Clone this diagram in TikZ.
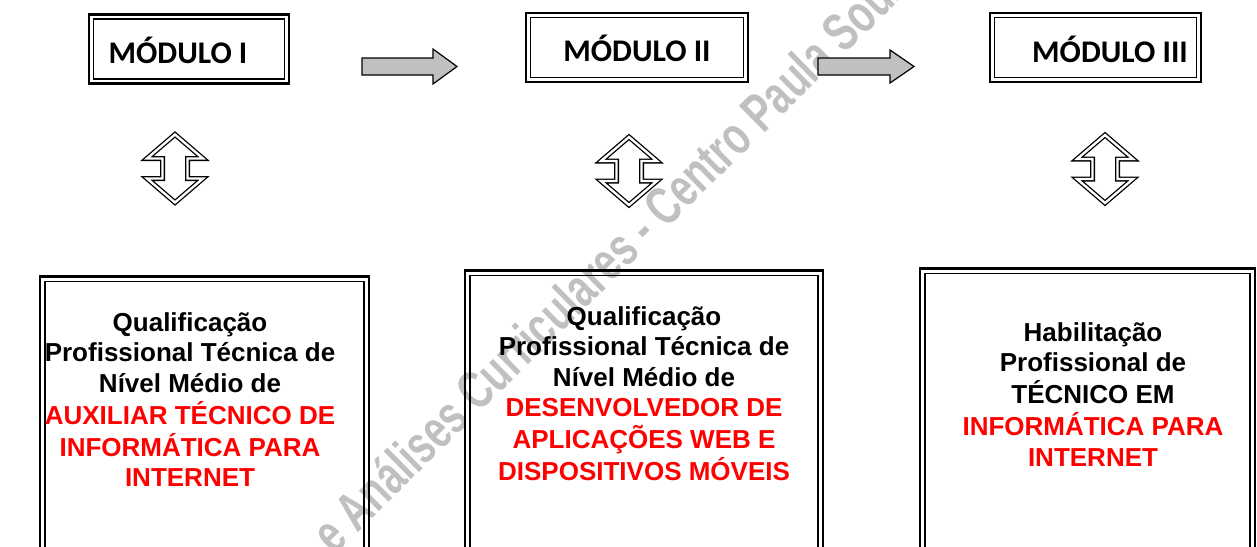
\documentclass[tikz,border=0pt]{standalone}
\usepackage{fontspec}
\usepackage{graphicx}
\newfontfamily\arialf{Liberation Sans}
\newfontfamily\calib{Carlito}
\definecolor{wm}{RGB}{192,192,192}
\definecolor{arfill}{RGB}{192,192,192}
\definecolor{rd}{RGB}{255,0,0}
\begin{document}
\begin{tikzpicture}[x=1pt,y=-1pt,
  modbox/.style={draw, line width=2.6pt, minimum width=#1, minimum height=69pt, inner sep=0pt},
  bigbox/.style={draw, line width=2.6pt, minimum width=#1, minimum height=320pt, inner sep=0pt, anchor=north},
  innerline/.style={line width=1.5pt},
  modlabel/.style={anchor=base, inner sep=0pt, font=\calib\bfseries\fontsize{31.5}{31.5}\selectfont},
  boxtext/.style={anchor=base, inner sep=0pt, font=\arialf\bfseries\fontsize{26}{30.5}\selectfont},
  greyarrow/.style={draw, line width=1.2pt, fill=arfill, line join=miter},
  udarrow/.style={draw, line width=1.3pt, double=white, double distance=2.4pt, line join=miter}
]
\useasboundingbox (0,0) rectangle (1257,546);
\clip (0,0) rectangle (1257,546);

% watermark
\node[rotate=44.5, anchor=base west, inner sep=0pt, text=wm,
      font=\arialf\bfseries\fontsize{40}{40}\selectfont] (wmark) at (334,556)
      {\scalebox{0.97}[1.35]{e Análises Curriculares - Centro Paula Souza}};

% module boxes
\node[modbox=200pt] (m1) at (189,49) {};
\node[modbox=222pt] (m2) at (637,47.5) {};
\node[modbox=211pt] (m3) at (1095.5,47.5) {};
\foreach \b in {m1,m2,m3}{
  \draw[innerline] ([xshift=6pt,yshift=-6pt]\b.north west) rectangle ([xshift=-6pt,yshift=6pt]\b.south east);
}
\node[modlabel] (l1) at (178,63) {MÓDULO I};
\node[modlabel] (l2) at (637,61) {MÓDULO II};
\node[modlabel] (l3) at (1110,62) {MÓDULO III};

% grey arrows
\draw[greyarrow] (362,58) -- (433,58) -- (433,49) -- (457,66.5) -- (433,84) -- (433,75) -- (362,75) -- cycle;
\draw[greyarrow] (818,58) -- (890,58) -- (890,50) -- (914,66.5) -- (890,83) -- (890,75) -- (818,75) -- cycle;

% up-down arrows
\foreach \cx/\cy in {175/168.5, 629/171, 1105/169}{
  \draw[udarrow] (\cx,\cy-34) -- (\cx+28,\cy-10) -- (\cx+12.5,\cy-10) -- (\cx+12.5,\cy+10)
     -- (\cx+28,\cy+10) -- (\cx,\cy+34) -- (\cx-28,\cy+10) -- (\cx-12.5,\cy+10)
     -- (\cx-12.5,\cy-10) -- (\cx-28,\cy-10) -- cycle;
}

% bottom boxes
\node[bigbox=329pt] (qa) at (204.5,275) {};
\node[bigbox=358pt] (qb) at (644,269) {};
\node[bigbox=335pt] (hc) at (1087.5,267) {};
\foreach \b in {qa,qb,hc}{
  \draw[innerline] ([xshift=6.5pt,yshift=-6.5pt]\b.north west) rectangle ([xshift=-6.5pt,yshift=6.5pt]\b.south east);
}

\node[boxtext] (ta) at (190,331) {\begin{tabular}[t]{@{}c@{}}
Qualificação\\ Profissional Técnica de\\ Nível Médio de\\
\textcolor{rd}{AUXILIAR TÉCNICO DE}\\ \textcolor{rd}{INFORMÁTICA PARA}\\ \textcolor{rd}{INTERNET}
\end{tabular}};
\node[boxtext] (tb) at (644,325) {\begin{tabular}[t]{@{}c@{}}
Qualificação\\ Profissional Técnica de\\ Nível Médio de\\
\textcolor{rd}{DESENVOLVEDOR DE}\\ \textcolor{rd}{APLICAÇÕES WEB E}\\ \textcolor{rd}{DISPOSITIVOS MÓVEIS}
\end{tabular}};
\node[boxtext] (tc) at (1093,341) {\begin{tabular}[t]{@{}c@{}}
Habilitação\\ Profissional de\\ TÉCNICO EM\\
\textcolor{rd}{INFORMÁTICA PARA}\\ \textcolor{rd}{INTERNET}
\end{tabular}};
\end{tikzpicture}
\end{document}
